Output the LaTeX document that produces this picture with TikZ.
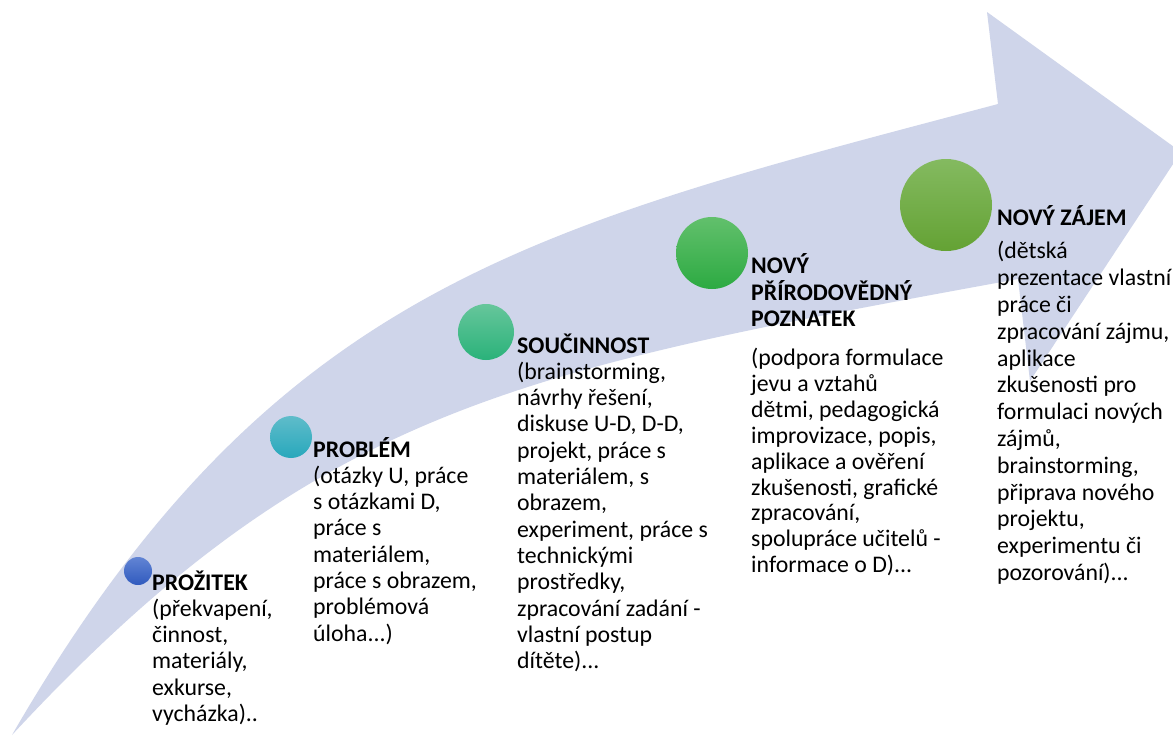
\documentclass[tikz,border=0pt]{standalone}
\usepackage{fontspec}
\setmainfont{Carlito}
\definecolor{arrowfill}{RGB}{207,213,234}
\definecolor{c1top}{RGB}{98,132,212}
\definecolor{c1bot}{RGB}{48,90,190}
\definecolor{c2top}{RGB}{95,188,202}
\definecolor{c2bot}{RGB}{40,168,188}
\definecolor{c3top}{RGB}{102,198,155}
\definecolor{c3bot}{RGB}{42,178,122}
\definecolor{c4top}{RGB}{98,192,108}
\definecolor{c4bot}{RGB}{44,170,66}
\definecolor{c5top}{RGB}{132,186,96}
\definecolor{c5bot}{RGB}{100,162,52}
\newcommand{\blk}[1]{\begin{tabular}[t]{@{}l@{}}#1\end{tabular}}
\begin{document}
\begin{tikzpicture}[x=1pt,y=-1pt,
  dot/.style={circle, inner sep=0pt, draw=none, shading=axis},
  txt/.style={anchor=base west, inner sep=0pt,
    font=\fontsize{23.8}{26.3}\selectfont}]
\useasboundingbox (0,0) rectangle (1173,737);
\fill[white] (0,0) rectangle (1173,737);
% curved arrow
\begin{scope}
\clip (0,0) rectangle (1173,737);
\coordinate (tail) at (12,735);
\coordinate (shtop) at (998,104);
\coordinate (headtop) at (987,12);
\coordinate (tip) at (1181,152);
\coordinate (headbot) at (1030,381);
\coordinate (shbot) at (1018,279);
\fill[arrowfill] (tail) .. controls (272,285) and (534,227) .. (shtop)
  -- (headtop) -- (tip) -- (headbot) -- (shbot)
  .. controls (522,370) and (318,405) .. (tail) -- cycle;
\end{scope}
% circles
\node[dot, minimum size=28pt, top color=c1top, bottom color=c1bot] (d1) at (138,571) {};
\node[dot, minimum size=42pt, top color=c2top, bottom color=c2bot] (d2) at (291,437) {};
\node[dot, minimum size=56pt, top color=c3top, bottom color=c3bot] (d3) at (486,332) {};
\node[dot, minimum size=72pt, top color=c4top, bottom color=c4bot] (d4) at (712,253) {};
\node[dot, minimum size=92pt, top color=c5top, bottom color=c5bot] (d5) at (946,205) {};
% texts
\node[txt] (t1) at (152,590) {\blk{\textbf{PROŽITEK}\\(překvapení,\\činnost,\\materiály,\\exkurse,\\vycházka)..}};
\node[txt] (t2) at (313,457) {\blk{\textbf{PROBLÉM}\\(otázky U, práce\\s otázkami D,\\práce s\\materiálem,\\práce s obrazem,\\problémová\\úloha...)}};
\node[txt] (t3) at (517,353) {\blk{\textbf{SOUČINNOST}\\(brainstorming,\\návrhy řešení,\\diskuse U-D, D-D,\\projekt, práce s\\materiálem, s\\obrazem,\\experiment, práce s\\technickými\\prostředky,\\zpracování zadání -\\vlastní postup\\dítěte)...}};
\node[txt, font=\fontsize{23.8}{25.9}\selectfont] (t4) at (751,273) {\blk{\textbf{NOVÝ}\\\textbf{PŘÍRODOVĚDNÝ}\\\textbf{POZNATEK}\\[13pt](podpora formulace\\jevu a vztahů\\dětmi, pedagogická\\improvizace, popis,\\aplikace a ověření\\zkušenosti, grafické\\zpracování,\\spolupráce učitelů -\\informace o D)...}};
\node[txt, font=\fontsize{23.8}{26.8}\selectfont] (t5) at (997,225) {\blk{\textbf{NOVÝ ZÁJEM}\\[7pt](dětská\\prezentace vlastní\\práce či\\zpracování zájmu,\\aplikace\\zkušenosti pro\\formulaci nových\\zájmů,\\brainstorming,\\připrava nového\\projektu,\\experimentu či\\pozorování)...}};
\end{tikzpicture}
\end{document}
